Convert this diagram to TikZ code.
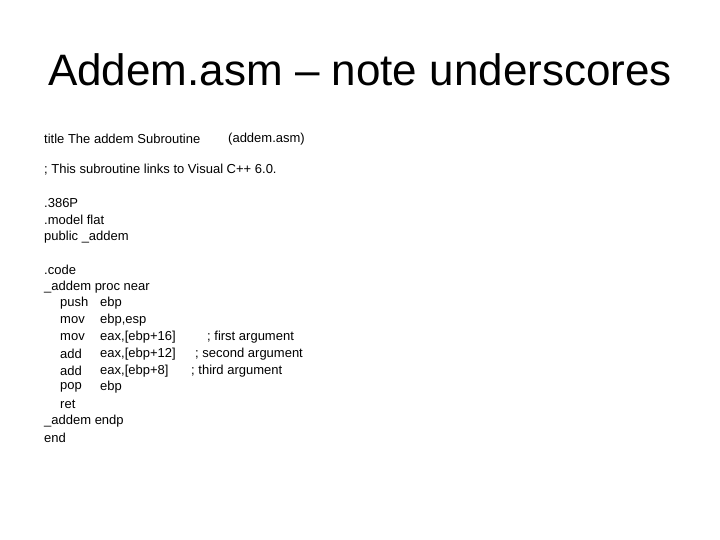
\documentclass[tikz,border=0pt]{standalone}
\usepackage{fontspec}
\setmainfont{Liberation Sans}
\begin{document}
\begin{tikzpicture}[x=1pt,y=-1pt,
  ln/.style={anchor=west,inner sep=0pt,font=\fontsize{13}{15}\selectfont}]
\useasboundingbox (0,0) rectangle (720,540);
\node[inner sep=0pt,font=\fontsize{44}{50}\selectfont] (t) at (360,70) {Addem.asm -- note underscores};
\node[ln] (l1) at (44,139) {title The addem Subroutine};
\node[ln] (l1b) at (228,139) {(addem.asm)};
\node[ln] (l2) at (44,170) {; This subroutine links to Visual C++ 6.0.};
\node[ln] (l3) at (44,203) {.386P};
\node[ln] (l4) at (44,220) {.model flat};
\node[ln] (l5) at (44,237) {public \_addem};
\node[ln] (l6) at (44,270) {.code};
\node[ln] (l7) at (44,287) {\_addem proc near};
\foreach \y/\m/\o in {303/push/ebp,320/mov/ebp\mbox{,}esp,337/mov/eax\mbox{,}[ebp+16],354/add/eax\mbox{,}[ebp+12],371/add/eax\mbox{,}[ebp+8],387/pop/ebp}{
  \node[ln] (m\y) at (60,\y) {\m};
  \node[ln] (o\y) at (100,\y) {\o};
}
\node[ln] (c1) at (207,337) {; first argument};
\node[ln] (c2) at (195,354) {; second argument};
\node[ln] (c3) at (191,371) {; third argument};
\node[ln] (l8) at (60,404) {ret};
\node[ln] (l9) at (44,421) {\_addem endp};
\node[ln] (l10) at (44,438) {end};
\end{tikzpicture}
\end{document}
